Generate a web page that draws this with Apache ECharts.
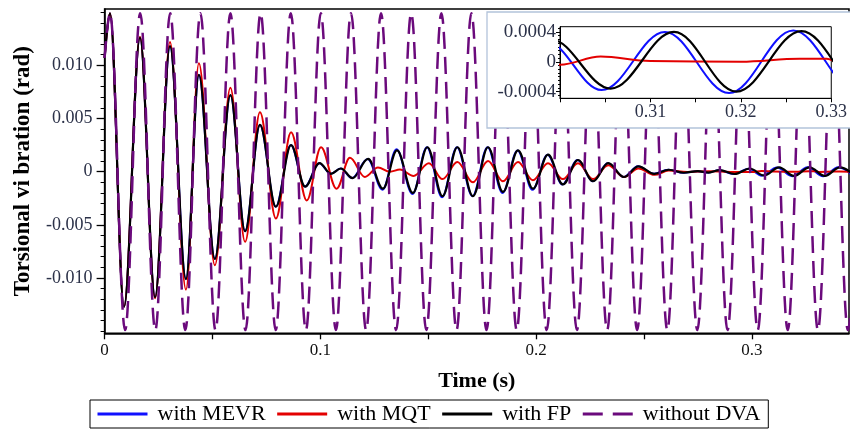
<!DOCTYPE html>
<html><head><meta charset="utf-8">
<script src="https://cdn.jsdelivr.net/npm/echarts@6/dist/echarts.min.js"></script>
<style>html,body{margin:0;padding:0;background:#fff}#c{width:850px;height:429px}</style>
</head><body><div id="c"></div>
<script>
// ---- data (time s, angle rad) : extrema ----
const seriesNames = ['with MEVR', 'with MQT', 'with FP', 'without DVA'];

const mevr = [
  [0,0.0107],[0.0025,0.0149],[0.0090,-0.0127],[0.0164,0.0126],[0.0234,-0.0118],[0.0303,0.0118],
  [0.0377,-0.0101],[0.0437,0.0091],[0.0511,-0.0082],[0.0583,0.0072],[0.0651,-0.0056],[0.0720,0.0044],
  [0.0793,-0.0033],[0.0863,0.0025],[0.0928,-0.0014],[0.0995,0.0008],[0.1048,-0.0002],[0.1094,0.0003],
  [0.1147,-0.0006],[0.1219,0.0012],[0.1288,-0.0017],[0.1353,0.0021],[0.1427,-0.0021],[0.1494,0.0023],
  [0.1564,-0.0024],[0.1633,0.0023],[0.1705,-0.0023],[0.1775,0.0023],[0.1844,-0.0020],[0.1914,0.0020],
  [0.1983,-0.0017],[0.2053,0.0016],[0.2122,-0.0012],[0.2192,0.0011],[0.2262,-0.0009],[0.2332,0.0008],
  [0.2405,-0.0005],[0.2472,0.0005],[0.2546,-0.0002],[0.2612,0.00018],[0.2682,-0.0001],[0.2747,0.00004],
  [0.2797,-0.00008],[0.2847,0.00014],[0.2915,-0.00021],[0.2985,0.00027],[0.3046,-0.00038],[0.3116,0.00040],
  [0.3187,-0.00042],[0.3258,0.00042],[0.3330,-0.00042],[0.3400,0.00042],[0.3470,-0.00042]
];

const mqt = [
  [0,0.0107],[0.0025,0.0149],[0.0090,-0.0127],[0.0164,0.0127],[0.0234,-0.0119],[0.0303,0.0122],
  [0.0377,-0.0111],[0.0437,0.0102],[0.0511,-0.0088],[0.0583,0.0079],[0.0651,-0.0066],[0.0720,0.0056],
  [0.0794,-0.0044],[0.0864,0.0037],[0.0937,-0.0027],[0.1003,0.0023],[0.1075,-0.0016],[0.1137,0.0013],
  [0.1206,-0.0005],[0.1267,0.0004],[0.1322,0.0000],[0.1369,0.0002],[0.1432,-0.0004],[0.1503,0.0008],
  [0.1566,-0.0007],[0.1635,0.0009],[0.1707,-0.0010],[0.1777,0.0010],[0.1846,-0.0009],[0.1916,0.0009],
  [0.1985,-0.0008],[0.2055,0.0008],[0.2124,-0.0007],[0.2194,0.0008],[0.2264,-0.0007],[0.2334,0.0006],
  [0.2407,-0.0005],[0.2474,0.0003],[0.2548,-0.0003],[0.2615,0.0001],[0.2700,-0.00003],[0.2800,0.00005],
  [0.2900,-0.00002],[0.3000,-0.00004],[0.3045,0.00007],[0.3100,0.00001],[0.3200,0.00000],[0.3265,0.00004],
  [0.3295,0.00004],[0.3310,-0.00002],[0.3380,0.00001],[0.3450,0.00000]
];

const fp = [
  [0,0.0107],[0.0025,0.0149],[0.0090,-0.0127],[0.0164,0.0126],[0.0234,-0.0118],[0.0303,0.0118],
  [0.0377,-0.0101],[0.0437,0.0091],[0.0511,-0.0082],[0.0583,0.0072],[0.0651,-0.0056],[0.0720,0.0044],
  [0.0794,-0.0033],[0.0864,0.0025],[0.0929,-0.0014],[0.0996,0.0008],[0.1049,-0.0002],[0.1095,0.0003],
  [0.1149,-0.0006],[0.1221,0.0012],[0.1290,-0.0016],[0.1355,0.0020],[0.1429,-0.0020],[0.1496,0.0023],
  [0.1566,-0.0023],[0.1635,0.0023],[0.1707,-0.0023],[0.1777,0.0023],[0.1846,-0.0019],[0.1916,0.0020],
  [0.1985,-0.0016],[0.2055,0.0016],[0.2124,-0.0012],[0.2194,0.0011],[0.2264,-0.0009],[0.2334,0.0008],
  [0.2407,-0.0005],[0.2474,0.0005],[0.2548,-0.0002],[0.2615,0.00018],[0.2685,-0.0001],[0.2750,0.00005],
  [0.2800,-0.00008],[0.2850,0.00015],[0.2920,-0.00022],[0.2990,0.00030],[0.3056,-0.00036],[0.3126,0.00040],
  [0.3195,-0.00040],[0.3267,0.00041],[0.3338,-0.00040],[0.3408,0.00040],[0.3478,-0.00040]
];

const noDva = [
  [0,0.0107],[0.0025,0.0149],[0.0095,-0.0149],[0.0165,0.0149],[0.0235,-0.0149],[0.0304,0.0149],
  [0.0374,-0.0149],[0.0444,0.0149],[0.0514,-0.0149],[0.0583,0.0149],[0.0653,-0.0149],[0.0723,0.0149],
  [0.0793,-0.0149],[0.0863,0.0149],[0.0933,-0.0149],[0.1002,0.0149],[0.1072,-0.0149],[0.1142,0.0149],
  [0.1212,-0.0149],[0.1281,0.0149],[0.1351,-0.0149],[0.1421,0.0149],[0.1491,-0.0149],[0.1561,0.0149],
  [0.1631,-0.0149],[0.1700,0.0149],[0.1770,-0.0149],[0.1840,0.0149],[0.1910,-0.0149],[0.1979,0.0149],
  [0.2049,-0.0149],[0.2119,0.0149],[0.2189,-0.0149],[0.2259,0.0149],[0.2329,-0.0149],[0.2398,0.0149],
  [0.2468,-0.0149],[0.2538,0.0149],[0.2608,-0.0149],[0.2677,0.0149],[0.2747,-0.0149],[0.2817,0.0149],
  [0.2887,-0.0149],[0.2957,0.0149],[0.3027,-0.0149],[0.3096,0.0149],[0.3166,-0.0149],[0.3236,0.0149],
  [0.3306,-0.0149],[0.3375,0.0149],[0.3445,-0.0149],[0.3515,0.0149]
];

// ---- ticks ----
const xLabelValues = [0, 0.1, 0.2, 0.3];
const xTickValues = [0, 0.05, 0.1, 0.15, 0.2, 0.25, 0.3];
const yLabelValues = [-0.01, -0.005, 0, 0.005, 0.01];
const yMinorValues = [-0.015,-0.014,-0.013,-0.012,-0.011,-0.009,-0.008,-0.007,-0.006,-0.004,-0.003,-0.002,-0.001,
  0.001,0.002,0.003,0.004,0.006,0.007,0.008,0.009,0.011,0.012,0.013,0.014,0.015];
const insetXLabelValues = [0.31, 0.32, 0.33];
const insetXTickValues = [0.30, 0.305, 0.31, 0.315, 0.32, 0.325, 0.33];
const insetYLabelValues = [-0.0004, 0, 0.0004];
const insetYMinorValues = [-0.00045,-0.00035,-0.0003,-0.00025,-0.0002,-0.00015,-0.0001,-0.00005,
  0.00005,0.0001,0.00015,0.0002,0.00025,0.0003,0.00035,0.00045];

const SERIF = '"Liberation Serif","Times New Roman",serif';
const colors = ['#1010ff', '#e30000', '#000000', '#6b0a7c'];

const fmt = d => v => (Math.abs(v) < 1e-12 ? '0' : v.toFixed(d));

function line(name, data, color, width, dash, gi, z) {
  return {
    name, type: 'line', data, xAxisIndex: gi, yAxisIndex: gi === 0 ? 0 : 2,
    symbol: 'none', smooth: 0.363, smoothMonotone: 'x', z,
    lineStyle: { color, width, type: dash || 'solid' }, itemStyle: { color },
    emphasis: { disabled: true }, silent: true
  };
}

const chart = echarts.init(document.getElementById('c'), null, { renderer: 'canvas' });
chart.setOption({
  animation: false,
  backgroundColor: '#fff',
  legend: {
    data: [
      { name: seriesNames[0] },
      { name: seriesNames[1] },
      { name: seriesNames[2] },
      { name: seriesNames[3], lineStyle: { type: [20, 10] } }
    ],
    left: 90, top: 400, orient: 'horizontal',
    itemWidth: 50, itemHeight: 14, itemGap: 10,
    padding: [3, 8, 3, 6], borderColor: '#000', borderWidth: 1,
    itemStyle: { opacity: 0 },
    lineStyle: { width: 3 },
    textStyle: { fontFamily: SERIF, fontSize: 22, color: '#000', padding: [0, 0, 0, 5] },
    selectedMode: false
  },
  graphic: [{
    type: 'rect', z: 10, silent: true,
    shape: { x: 487, y: 12, width: 380, height: 116 },
    style: { fill: '#fff', stroke: '#b3c3da', lineWidth: 1.3 }
  }],
  grid: [
    { left: 104.6, top: 9, right: 1, bottom: 95.7, show: true, borderColor: '#000', borderWidth: 1.5, backgroundColor: 'rgba(0,0,0,0)' },
    { left: 560, top: 26.7, width: 273.3, height: 71.6, show: true, borderColor: '#000', borderWidth: 1, backgroundColor: 'rgba(0,0,0,0)', z: 11 }
  ],
  xAxis: [
    {
      type: 'value', gridIndex: 0, min: 0, max: 0.345,
      axisLine: { show: true, onZero: false, lineStyle: { color: '#000', width: 1.5 } },
      axisTick: { show: true, customValues: xTickValues, length: 6, lineStyle: { color: '#000', width: 1.3 } },
      axisLabel: { customValues: xLabelValues, formatter: fmt(1), fontFamily: SERIF, fontSize: 17, color: '#111', margin: 9 },
      splitLine: { show: false },
      name: 'Time (s)', nameLocation: 'middle', nameGap: 37,
      nameTextStyle: { fontFamily: SERIF, fontSize: 22, fontWeight: 'bold', color: '#000' }
    },
    {
      type: 'value', gridIndex: 1, min: 0.30, max: 0.33, z: 12,
      axisLine: { show: true, onZero: false, lineStyle: { color: '#000', width: 1 } },
      axisTick: { show: true, customValues: insetXTickValues, length: 4, lineStyle: { color: '#000' } },
      axisLabel: { customValues: insetXLabelValues, formatter: fmt(2), fontFamily: SERIF, fontSize: 18, color: '#2b3148', margin: 5 },
      splitLine: { show: false }
    }
  ],
  yAxis: [
    {
      type: 'value', gridIndex: 0, min: -0.0152, max: 0.0153,
      axisLine: { show: true, onZero: false, lineStyle: { color: '#000', width: 1.5 } },
      axisTick: { show: true, customValues: yLabelValues, length: 8, lineStyle: { color: '#000', width: 1.3 } },
      axisLabel: { customValues: yLabelValues, formatter: fmt(3), fontFamily: SERIF, fontSize: 18, color: '#2b3148', margin: 12 },
      splitLine: { show: false },
      name: 'Torsional vi bration (rad)', nameLocation: 'middle', nameGap: 70,
      nameTextStyle: { fontFamily: SERIF, fontSize: 23, fontWeight: 'bold', color: '#000' }
    },
    {
      type: 'value', gridIndex: 0, min: -0.0152, max: 0.0153, position: 'left', offset: 0,
      axisLine: { show: false, onZero: false },
      axisTick: { show: true, customValues: yMinorValues, length: 4, lineStyle: { color: '#000' } },
      axisLabel: { show: false }, splitLine: { show: false }
    },
    {
      type: 'value', gridIndex: 1, min: -0.00049, max: 0.00047, z: 12,
      axisLine: { show: true, onZero: false, lineStyle: { color: '#000', width: 1 } },
      axisTick: { show: true, customValues: insetYLabelValues, length: 4, lineStyle: { color: '#000' } },
      axisLabel: { customValues: insetYLabelValues, formatter: fmt(4), fontFamily: SERIF, fontSize: 19, color: '#2b3148', margin: 4 },
      splitLine: { show: false }
    },
    {
      type: 'value', gridIndex: 1, min: -0.00049, max: 0.00047, position: 'left', offset: 0, z: 12,
      axisLine: { show: false, onZero: false },
      axisTick: { show: true, customValues: insetYMinorValues, length: 2, lineStyle: { color: '#000' } },
      axisLabel: { show: false }, splitLine: { show: false }
    }
  ],
  series: [
    line(seriesNames[0], mevr, colors[0], 2, null, 0, 2),
    line(seriesNames[1], mqt, colors[1], 2, null, 0, 3),
    line(seriesNames[2], fp, colors[2], 2.2, null, 0, 4),
    line(seriesNames[3], noDva, colors[3], 2.5, [17, 8], 0, 5),
    line(seriesNames[0], mevr, colors[0], 2, null, 1, 13),
    line(seriesNames[1], mqt, colors[1], 2, null, 1, 14),
    line(seriesNames[2], fp, colors[2], 2.2, null, 1, 15)
  ]
});
</script></body></html>
